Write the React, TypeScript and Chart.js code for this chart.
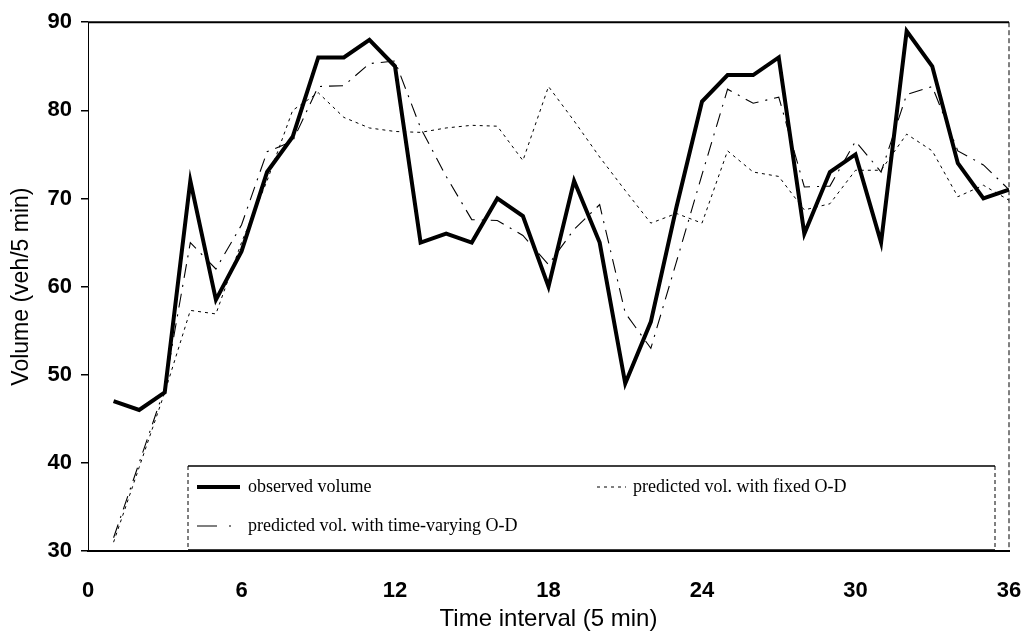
import React, { useEffect, useRef } from "react";
import { Chart, registerables } from "chart.js";

Chart.register(...registerables);

const intervals = [1, 2, 3, 4, 5, 6, 7, 8, 9, 10, 11, 12, 13, 14, 15, 16, 17, 18, 19, 20, 21, 22, 23, 24, 25, 26, 27, 28, 29, 30, 31, 32, 33, 34, 35, 36];

const observedVolume = [47, 46, 48, 72, 58.5, 64, 73, 77, 86, 86, 88, 85, 65, 66, 65, 70, 68, 60, 72, 65, 49, 56, 69, 81, 84, 84, 86, 66, 73, 75, 65, 89, 85, 74, 70, 71];

const predictedFixedOD = [31, 39.5, 48, 57.3, 56.9, 65, 72, 80, 82, 79.2, 78, 77.6, 77.5, 78, 78.3, 78.2, 74.3, 82.7, 78.8, 74.7, 70.9, 67.2, 68.3, 67.2, 75.4, 73, 72.5, 68.7, 69.4, 73.2, 73.2, 77.3, 75.4, 70.2, 71.5, 69.8];

const predictedTimeVaryingOD = [31.5, 40, 48.5, 65, 62, 67, 75.3, 76.5, 82.7, 82.8, 85.3, 85.6, 78, 72.5, 67.6, 67.5, 65.8, 62.5, 66.5, 69.3, 57, 53, 62.8, 72.7, 82.4, 80.8, 81.5, 71.3, 71.4, 76.5, 73, 81.8, 82.7, 75.4, 73.8, 71];

const xTicks = [0, 6, 12, 18, 24, 30, 36];
const yTicks = [30, 40, 50, 60, 70, 80, 90];

const seriesLabels = [
  "observed volume",
  "predicted vol. with fixed O-D",
  "predicted vol. with time-varying O-D",
];

const toPoints = (vals: number[]) => intervals.map((x, i) => ({ x, y: vals[i] }));

const framePlugin = {
  id: "frame",
  afterDatasetsDraw(chart: any) {
    const { ctx, chartArea } = chart;
    const { left, right, top, bottom } = chartArea;
    ctx.save();
    ctx.strokeStyle = "#000";
    ctx.lineWidth = 2;
    ctx.setLineDash([]);
    ctx.beginPath();
    ctx.moveTo(left, top);
    ctx.lineTo(right, top);
    ctx.stroke();
    ctx.lineWidth = 1;
    ctx.setLineDash([5, 3]);
    ctx.beginPath();
    ctx.moveTo(right, top);
    ctx.lineTo(right, bottom);
    ctx.stroke();

    const bx0 = left + 100;
    const bx1 = right - 14;
    const by0 = bottom - 85;
    const by1 = bottom - 1;
    ctx.setLineDash([]);
    ctx.fillStyle = "#fff";
    ctx.fillRect(bx0, by0, bx1 - bx0, by1 - by0);
    ctx.lineWidth = 1.5;
    ctx.beginPath();
    ctx.moveTo(bx0, by0);
    ctx.lineTo(bx1, by0);
    ctx.moveTo(bx0, by1);
    ctx.lineTo(bx1, by1);
    ctx.stroke();
    ctx.lineWidth = 1;
    ctx.setLineDash([4, 3]);
    ctx.beginPath();
    ctx.moveTo(bx0, by0);
    ctx.lineTo(bx0, by1);
    ctx.moveTo(bx1, by0);
    ctx.lineTo(bx1, by1);
    ctx.stroke();

    const ds = chart.data.datasets;
    const row1 = by0 + 21;
    const row2 = by0 + 60;
    ctx.font = '18px "Liberation Serif"';
    ctx.fillStyle = "#000";
    ctx.textBaseline = "middle";
    ctx.textAlign = "left";

    ctx.setLineDash([]);
    ctx.lineWidth = 4;
    ctx.beginPath();
    ctx.moveTo(bx0 + 9, row1);
    ctx.lineTo(bx0 + 52, row1);
    ctx.stroke();
    ctx.fillText(ds[0].label, bx0 + 60, row1);

    ctx.lineWidth = 1;
    ctx.setLineDash([3, 4]);
    ctx.beginPath();
    ctx.moveTo(bx0 + 409, row1);
    ctx.lineTo(bx0 + 438, row1);
    ctx.stroke();
    ctx.fillText(ds[1].label, bx0 + 445, row1);

    ctx.lineWidth = 1.2;
    ctx.setLineDash([20, 12, 2, 12]);
    ctx.beginPath();
    ctx.moveTo(bx0 + 9, row2);
    ctx.lineTo(bx0 + 46, row2);
    ctx.stroke();
    ctx.setLineDash([]);
    ctx.fillText(ds[2].label, bx0 + 60, row2);
    ctx.restore();
  },
};

export default function App() {
  const canvasRef = useRef<HTMLCanvasElement | null>(null);

  useEffect(() => {
    document.body.style.margin = "0";
    const canvas = canvasRef.current;
    if (!canvas) return;
    const chart = new Chart(canvas, {
      type: "line",
      data: {
        datasets: [
          {
            label: seriesLabels[0],
            data: toPoints(observedVolume),
            borderColor: "#000",
            borderWidth: 4,
            pointRadius: 0,
            tension: 0,
          },
          {
            label: seriesLabels[1],
            data: toPoints(predictedFixedOD),
            borderColor: "#000",
            borderWidth: 1,
            borderDash: [3, 4],
            pointRadius: 0,
            tension: 0,
          },
          {
            label: seriesLabels[2],
            data: toPoints(predictedTimeVaryingOD),
            borderColor: "#000",
            borderWidth: 1.1,
            borderDash: [14, 7, 2, 7],
            pointRadius: 0,
            tension: 0,
          },
        ],
      },
      options: {
        animation: false,
        responsive: true,
        maintainAspectRatio: false,
        layout: { padding: { left: 0, right: 0, top: 18, bottom: 0 } },
        plugins: {
          legend: { display: false },
          tooltip: { enabled: false },
        },
        scales: {
          x: {
            type: "linear",
            min: 0,
            max: 36,
            afterBuildTicks: (scale: any) => {
              scale.ticks = xTicks.map((v) => ({ value: v }));
            },
            afterFit: (scale: any) => {
              scale.height = 83;
              scale.paddingRight = 13;
            },
            ticks: {
              color: "#000",
              font: { family: "Liberation Sans", size: 22, weight: "bold" },
              padding: 19,
              maxRotation: 0,
            },
            grid: { display: false },
            border: { display: true, color: "#000", width: 2 },
            title: {
              display: true,
              text: "Time interval (5 min)",
              color: "#000",
              font: { family: "Liberation Sans", size: 24 },
              padding: { top: 0, bottom: 0 },
            },
          },
          y: {
            type: "linear",
            min: 30,
            max: 90,
            afterBuildTicks: (scale: any) => {
              scale.ticks = yTicks.map((v) => ({ value: v }));
            },
            afterFit: (scale: any) => {
              scale.width = 88;
            },
            ticks: {
              color: "#000",
              font: { family: "Liberation Sans", size: 22, weight: "bold" },
              padding: 9,
            },
            grid: {
              display: true,
              drawOnChartArea: false,
              drawTicks: true,
              tickLength: 7,
              color: "#000",
              lineWidth: 1.5,
            },
            border: { display: true, color: "#000", width: 1, dash: [5, 3] },
            title: {
              display: true,
              text: "Volume (veh/5 min)",
              color: "#000",
              font: { family: "Liberation Sans", size: 23 },
              padding: { top: 8, bottom: 0 },
            },
          },
        },
      },
      plugins: [framePlugin],
    } as any);
    return () => chart.destroy();
  }, []);

  return (
    <div style={{ position: "relative", width: 1022, height: 634 }}>
      <canvas ref={canvasRef} />
    </div>
  );
}
